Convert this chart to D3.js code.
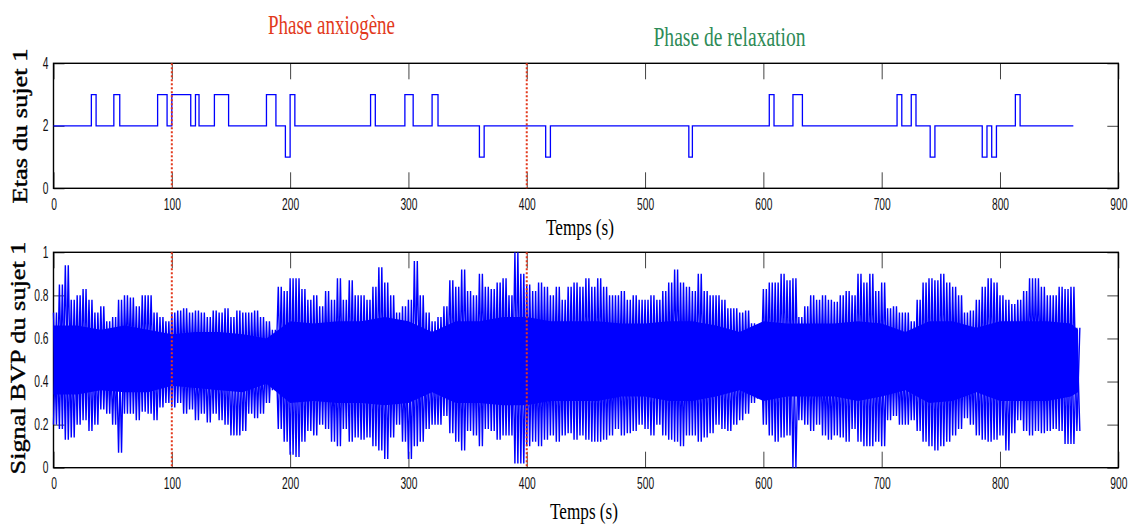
<!DOCTYPE html>
<html>
<head>
<meta charset="utf-8">
<script src="https://cdn.jsdelivr.net/npm/d3@7"></script>
<style>
  body { margin: 0; background: #fff; }
  svg { display: block; }
</style>
</head>
<body>
<svg width="1132" height="526"></svg>
<script>

// etats du sujet 1 : instants (s) ou l'etat change, et nouvel etat
var stateTimes  = [0, 32, 36, 51, 56, 88, 96, 100, 116, 120, 123, 136, 148, 180, 188, 196, 200, 204,
                   268, 272, 297, 304, 320, 325, 360, 364, 416, 420, 537, 540, 605, 609, 625, 633,
                   713, 717, 725, 729, 741, 745, 785, 789, 793, 797, 813, 817, 862];
var stateValues = [2, 3, 2, 3, 2, 3, 2, 3, 2, 3, 2, 3, 2, 3, 2, 1, 3, 2,
                   3, 2, 3, 2, 3, 2, 1, 2, 1, 2, 1, 2, 3, 2, 3, 2,
                   3, 2, 3, 2, 1, 2, 1, 2, 1, 2, 3, 2, 2];

// debut / fin de la phase anxiogene
var phaseMarks = [100, 400];

// signal BVP : crete haute et basse lues toutes les 5 s (0 .. 865 s)
var bvpStep = 5;
var bvpHi = [
  .72,.85,.94,.78,.80,.83,.78,.72,.75,.68,
  .70,.78,.80,.79,.75,.80,.80,.72,.70,.68,
  .72,.73,.74,.72,.73,.72,.70,.73,.72,.74,
  .70,.73,.72,.72,.73,.70,.68,.64,.84,.82,
  .88,.88,.83,.78,.80,.75,.82,.78,.88,.78,
  .87,.80,.80,.78,.84,.93,.86,.80,.72,.75,
  .78,.96,.80,.72,.68,.70,.75,.87,.84,.92,
  .82,.80,.90,.84,.83,.86,.88,.80,1.0,.90,
  .85,.82,.86,.84,.80,.84,.78,.84,.86,.84,
  .88,.84,.88,.84,.80,.80,.82,.78,.80,.78,
  .78,.80,.78,.82,.86,.92,.86,.84,.82,.90,
  .82,.80,.80,.78,.74,.74,.72,.73,.67,.66,
  .83,.86,.86,.90,.87,.88,.70,.75,.80,.78,
  .80,.78,.77,.80,.82,.80,.90,.86,.90,.82,
  .86,.74,.75,.72,.72,.68,.78,.86,.88,.87,
  .90,.86,.84,.80,.72,.73,.78,.84,.88,.86,
  .80,.78,.76,.78,.82,.88,.88,.84,.80,.80,
  .84,.83,.84,.65
];
var bvpLo = [
  .20,.18,.13,.14,.20,.22,.17,.20,.27,.25,
  .20,.07,.25,.25,.22,.26,.25,.22,.28,.30,
  .28,.30,.25,.27,.22,.25,.21,.25,.22,.20,
  .15,.15,.17,.25,.23,.25,.30,.36,.18,.12,
  .06,.05,.12,.17,.15,.20,.18,.12,.10,.18,
  .12,.14,.13,.14,.10,.08,.04,.14,.20,.12,
  .04,.10,.12,.18,.20,.20,.24,.16,.12,.08,
  .17,.15,.10,.18,.17,.13,.15,.15,.02,.02,
  .10,.12,.10,.13,.15,.12,.15,.16,.13,.15,
  .13,.12,.12,.13,.15,.18,.15,.16,.17,.20,
  .18,.15,.20,.15,.13,.12,.10,.15,.15,.12,
  .14,.16,.20,.18,.17,.20,.22,.25,.30,.32,
  .20,.15,.12,.14,.15,.00,.22,.20,.17,.20,
  .15,.13,.15,.14,.12,.18,.12,.10,.10,.12,
  .10,.22,.24,.20,.20,.22,.17,.12,.10,.08,
  .10,.12,.15,.18,.23,.20,.15,.13,.12,.13,
  .15,.08,.16,.22,.17,.15,.17,.16,.17,.18,
  .17,.11,.11,.17
];

// zone pleine (coeur du signal), lue toutes les 20 s
var coreTimes = [0, 20, 40, 60, 80, 100, 120, 140, 160, 180, 200, 220, 240, 260, 280, 300, 320, 340,
                 360, 380, 400, 420, 440, 460, 480, 500, 520, 540, 560, 580, 600, 620, 640, 660,
                 680, 700, 720, 740, 760, 780, 800, 820, 840, 860, 866];
var coreHi = [.66,.66,.64,.66,.64,.62,.63,.63,.62,.60,.68,.67,.68,.68,.70,.68,.63,.68,.68,.70,.70,.68,
              .68,.68,.67,.67,.68,.68,.66,.63,.68,.67,.67,.67,.68,.67,.63,.68,.68,.65,.68,.68,.68,.67,.64];
var coreLo = [.34,.34,.36,.35,.35,.38,.37,.36,.35,.39,.30,.31,.30,.30,.29,.30,.35,.30,.30,.29,.29,.31,
              .31,.31,.33,.33,.31,.31,.33,.36,.31,.33,.33,.33,.31,.33,.36,.30,.31,.35,.31,.31,.31,.33,.35];

var xTicks = [0, 100, 200, 300, 400, 500, 600, 700, 800, 900];
var stateTicks = [0, 2, 4];
var bvpTicks = [0, 0.2, 0.4, 0.6, 0.8, 1];

var svg = d3.select("svg");

var x = d3.scaleLinear().domain([0, 900]).range([53.5, 1118.3]);
var yState = d3.scaleLinear().domain([0, 4]).range([188.3, 63.3]);
var yBvp = d3.scaleLinear().domain([0, 1]).range([467.7, 252.3]);

var blue = "#0000ff", red = "#e2391c";

// texte "ecrase" horizontalement comme dans la figure d'origine
function squash(sel, k) {
  sel.each(function() {
    var w = this.getComputedTextLength();
    d3.select(this).attr("textLength", w * k).attr("lengthAdjust", "spacingAndGlyphs");
  });
}

function frame(y, yTicks) {
  var g = svg.append("g");
  var y0 = y.range()[0], y1 = y.range()[1];

  var bottom = g.append("g").attr("transform", "translate(0," + y0 + ")")
      .call(d3.axisBottom(x).tickValues(xTicks).tickSize(-16).tickPadding(10));
  g.append("g").attr("transform", "translate(0," + y1 + ")")
      .call(d3.axisTop(x).tickValues(xTicks).tickSize(-16).tickFormat(""));
  var left = g.append("g").attr("transform", "translate(" + x.range()[0] + ",0)")
      .call(d3.axisLeft(y).tickValues(yTicks).tickSize(-11).tickPadding(5).tickFormat(d3.format("~g")));
  g.append("g").attr("transform", "translate(" + x.range()[1] + ",0)")
      .call(d3.axisRight(y).tickValues(yTicks).tickSize(-11).tickFormat(""));

  g.selectAll(".domain").remove();
  g.selectAll(".tick line").attr("stroke", "#444").attr("stroke-width", 1);
  g.selectAll(".tick text")
      .attr("fill", "#111")
      .style("font-family", "'Liberation Sans', Arial, sans-serif")
      .style("font-size", "16px");
  squash(bottom.selectAll(".tick text"), 0.64);
  squash(left.selectAll(".tick text"), 0.64);

  g.append("rect")
      .attr("x", x.range()[0]).attr("y", y1)
      .attr("width", x.range()[1] - x.range()[0]).attr("height", y0 - y1)
      .attr("fill", "none").attr("stroke", "#000").attr("stroke-width", 1.4);
  return g;
}

function phaseLines(g, y) {
  g.selectAll(".phase").data(phaseMarks).enter().append("line")
      .attr("class", "phase")
      .attr("x1", function(d) { return x(d); }).attr("x2", function(d) { return x(d); })
      .attr("y1", y.range()[1]).attr("y2", y.range()[0])
      .attr("stroke", red).attr("stroke-width", 2).attr("stroke-dasharray", "2,2");
}

// ---- panneau du haut : etats
var states = stateTimes.map(function(t, i) { return { t: t, v: stateValues[i] }; });

var panelTop = frame(yState, stateTicks);
panelTop.append("path")
    .datum(states)
    .attr("fill", "none").attr("stroke", blue).attr("stroke-width", 1.3)
    .attr("d", d3.line().curve(d3.curveStepAfter)
      .x(function(d) { return x(d.t); })
      .y(function(d) { return yState(d.v); }));
phaseLines(panelTop, yState);

// ---- panneau du bas : signal BVP
var panelBot = frame(yBvp, bvpTicks);

var core = coreTimes.map(function(t, i) { return { t: t, hi: coreHi[i], lo: coreLo[i] }; });
panelBot.append("path")
    .datum(core)
    .attr("fill", blue).attr("stroke", "none")
    .attr("d", d3.area()
      .x(function(d) { return x(d.t); })
      .y0(function(d) { return yBvp(d.lo); })
      .y1(function(d) { return yBvp(d.hi); }));

// deux traces croisees : crete a t puis creux a t + 2.5, et l'inverse
var zigA = [], zigB = [];
bvpHi.forEach(function(h, i) {
  var t = i * bvpStep;
  zigA.push([t, h], [t + bvpStep / 2, bvpLo[i]]);
  zigB.push([t, bvpLo[i]], [t + bvpStep / 2, h]);
});
var bvpLine = d3.line()
    .x(function(d) { return x(d[0]); })
    .y(function(d) { return yBvp(d[1]); });
panelBot.selectAll(".bvp").data([zigA, zigB]).enter().append("path")
    .attr("class", "bvp")
    .attr("fill", "none").attr("stroke", blue).attr("stroke-width", 1.4)
    .attr("stroke-linejoin", "bevel")
    .attr("d", bvpLine);
phaseLines(panelBot, yBvp);

// ---- textes
var serif = "'Liberation Serif', 'Times New Roman', serif";

function label(txt, px, py, size, len, color, rot) {
  var t = svg.append("text")
      .attr("text-anchor", "middle")
      .attr("fill", color)
      .style("font-family", serif)
      .style("font-size", size + "px")
      .attr("textLength", len)
      .attr("lengthAdjust", "spacingAndGlyphs")
      .text(txt);
  if (rot) t.attr("transform", "translate(" + px + "," + py + ") rotate(-90)");
  else t.attr("x", px).attr("y", py);
  return t;
}

label("Phase anxiogène", 331.5, 34, 28, 127, red);
label("Phase de relaxation", 729.5, 46, 27.5, 152, "#2e8b57");
label("Temps (s)", 580, 235, 23, 68, "#000");
label("Temps (s)", 584, 519, 23, 68, "#000");
label("Etas du sujet 1", 26.5, 126, 20, 155, "#000", true)
    .attr("stroke", "#000").attr("stroke-width", 0.4);
label("Signal BVP du sujet 1", 25, 358, 21, 233, "#000", true)
    .attr("stroke", "#000").attr("stroke-width", 0.4);

</script>
</body>
</html>
